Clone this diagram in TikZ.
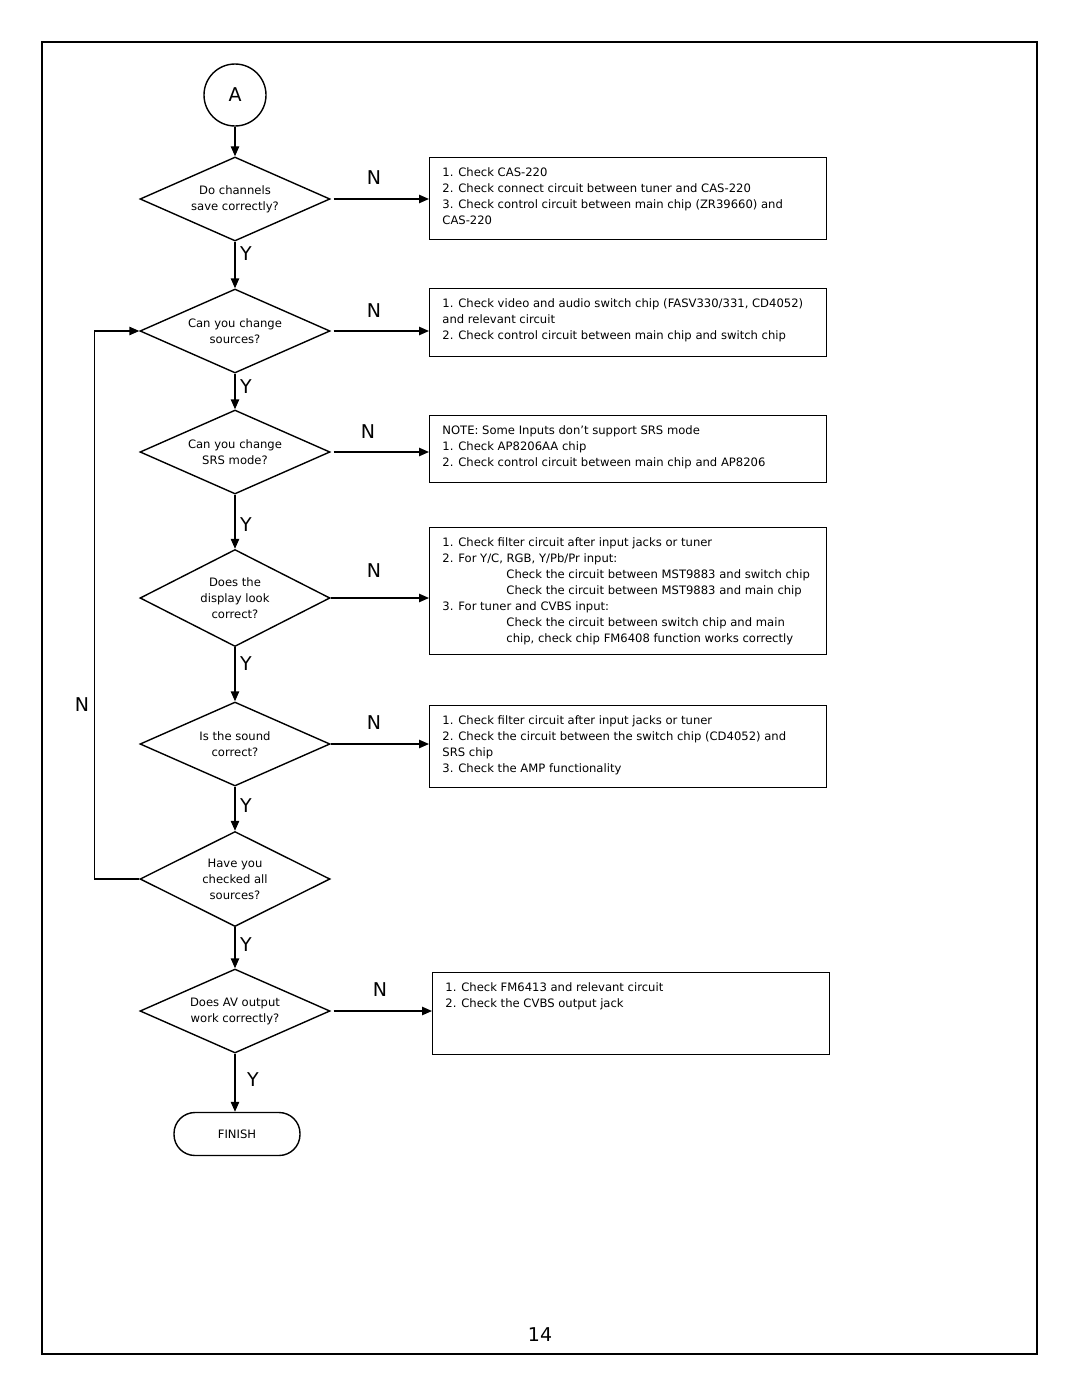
\documentclass[tikz,border=0pt]{standalone}
\usepackage{fontspec}
\setmainfont{DejaVu Sans}
\usetikzlibrary{shapes.geometric,arrows.meta}

\newcommand{\klein}{\fontsize{5.8}{8}\selectfont}
\newcommand{\gross}{\fontsize{9.5}{11}\selectfont}
\newcommand{\seitenfont}{\fontsize{9.5}{11}\selectfont}

\tikzset{
	frage/.style={diamond, draw, line width=0.7pt, minimum width=95pt, minimum height=42pt, inner sep=0pt, aspect=2, align=center, font=\klein},
	kasten/.style={draw, line width=0.7pt, anchor=north west, inner sep=0pt, minimum width=198.5pt},
	hinweis/.style={anchor=north west, align=left, font=\klein, inner sep=0pt},
	pfeil/.style={-{Triangle[length=5pt,width=4.2pt]}, line width=0.7pt},
	marke/.style={font=\gross, inner sep=0pt}
}

\begin{document}
\begin{tikzpicture}[x=0.5pt,y=-0.5pt]

	% Seitenrahmen
	\useasboundingbox (0,0) rectangle (1080,1397);
	\draw[line width=0.6pt] (42,42) rectangle (1037,1354);

	% Start
	\node[circle, draw, line width=0.7pt, minimum size=31pt, inner sep=0pt, font=\gross] (A) at (235,95) {A};

	% Fragen
	\node[frage] (f1) at (235,199) {Do channels\\save correctly?};
	\node[frage] (f2) at (235,331) {Can you change\\sources?};
	\node[frage] (f3) at (235,452) {Can you change\\SRS mode?};
	\node[frage, minimum height=48.5pt] (f4) at (235,598) {Does the\\display look\\correct?};
	\node[frage] (f5) at (235,744) {Is the sound\\correct?};
	\node[frage, minimum height=47.5pt] (f6) at (235,879) {Have you\\checked all\\sources?};
	\node[frage] (f7) at (235,1011) {Does AV output\\work correctly?};

	% Ende
	\node[draw, line width=0.7pt, rounded corners=10.5pt, minimum width=63pt, minimum height=21.5pt, font=\klein] (ende) at (237,1134) {FINISH};

	% Kaesten
	\node[kasten, minimum height=41pt] (b1) at (429,157) {};
	\node[kasten, minimum height=34pt] (b2) at (429,288) {};
	\node[kasten, minimum height=33.5pt] (b3) at (429,415) {};
	\node[kasten, minimum height=63.5pt] (b4) at (429,527) {};
	\node[kasten, minimum height=41pt] (b5) at (429,705) {};
	\node[kasten, minimum height=41pt] (b7) at (432,972) {};

	% Kastentexte
	\node[hinweis] (t1) at ([shift={(13,10)}]b1.north west) {1. Check CAS-220\\2. Check connect circuit between tuner and CAS-220\\3. Check control circuit between main chip (ZR39660) and\\CAS-220};
	\node[hinweis] (t2) at ([shift={(13,10)}]b2.north west) {1. Check video and audio switch chip (FASV330/331, CD4052)\\and relevant circuit\\2. Check control circuit between main chip and switch chip};
	\node[hinweis] (t3) at ([shift={(13,10)}]b3.north west) {NOTE: Some Inputs don’t support SRS mode\\1. Check AP8206AA chip\\2. Check control circuit between main chip and AP8206};
	\node[hinweis] (t4) at ([shift={(13,10)}]b4.north west) {1. Check filter circuit after input jacks or tuner\\2. For Y/C, RGB, Y/Pb/Pr input:\\\hspace*{32pt}Check the circuit between MST9883 and switch chip\\\hspace*{32pt}Check the circuit between MST9883 and main chip\\3. For tuner and CVBS input:\\\hspace*{32pt}Check the circuit between switch chip and main\\\hspace*{32pt}chip, check chip FM6408 function works correctly};
	\node[hinweis] (t5) at ([shift={(13,10)}]b5.north west) {1. Check filter circuit after input jacks or tuner\\2. Check the circuit between the switch chip (CD4052) and\\SRS chip\\3. Check the AMP functionality};
	\node[hinweis] (t7) at ([shift={(13,10)}]b7.north west) {1. Check FM6413 and relevant circuit\\2. Check the CVBS output jack};

	% Ja-Pfade
	\draw[pfeil] (A) -- (f1);
	\draw[pfeil] (f1) -- (f2);
	\draw[pfeil] (f2) -- (f3);
	\draw[pfeil] (f3) -- (f4);
	\draw[pfeil] (f4) -- (f5);
	\draw[pfeil] (f5) -- (f6);
	\draw[pfeil] (f6) -- (f7);
	\draw[pfeil] (f7.south) -- (f7.south |- ende.north);

	% Nein-Pfade
	\draw[pfeil] ([xshift=1.5pt]f1.east) -- (f1.east -| b1.west);
	\draw[pfeil] ([xshift=1.5pt]f2.east) -- (f2.east -| b2.west);
	\draw[pfeil] ([xshift=1.5pt]f3.east) -- (f3.east -| b3.west);
	\draw[pfeil] (f4.east) -- (f4.east -| b4.west);
	\draw[pfeil] (f5.east) -- (f5.east -| b5.west);
	\draw[pfeil] ([xshift=1.5pt]f7.east) -- (f7.east -| b7.west);

	% Rueckfuehrung
	\draw[pfeil] (f6.west) -- ++(-45,0) |- (f2.west);

	% Beschriftungen Y
	\node[marke] (y1) at (246,254) {Y};
	\node[marke] (y2) at (246,387) {Y};
	\node[marke] (y3) at (246,525) {Y};
	\node[marke] (y4) at (246,664) {Y};
	\node[marke] (y5) at (246,806) {Y};
	\node[marke] (y6) at (246,945) {Y};
	\node[marke] (y7) at (253,1080) {Y};

	% Beschriftungen N
	\node[marke] (n1) at (374,178) {N};
	\node[marke] (n2) at (374,311) {N};
	\node[marke] (n3) at (368,432) {N};
	\node[marke] (n4) at (374,571) {N};
	\node[marke] (n5) at (374,723) {N};
	\node[marke] (n6) at (82,705) {N};
	\node[marke] (n7) at (380,990) {N};

	% Seitenzahl
	\node[font=\seitenfont] (seite) at (540,1335) {14};

\end{tikzpicture}
\end{document}
